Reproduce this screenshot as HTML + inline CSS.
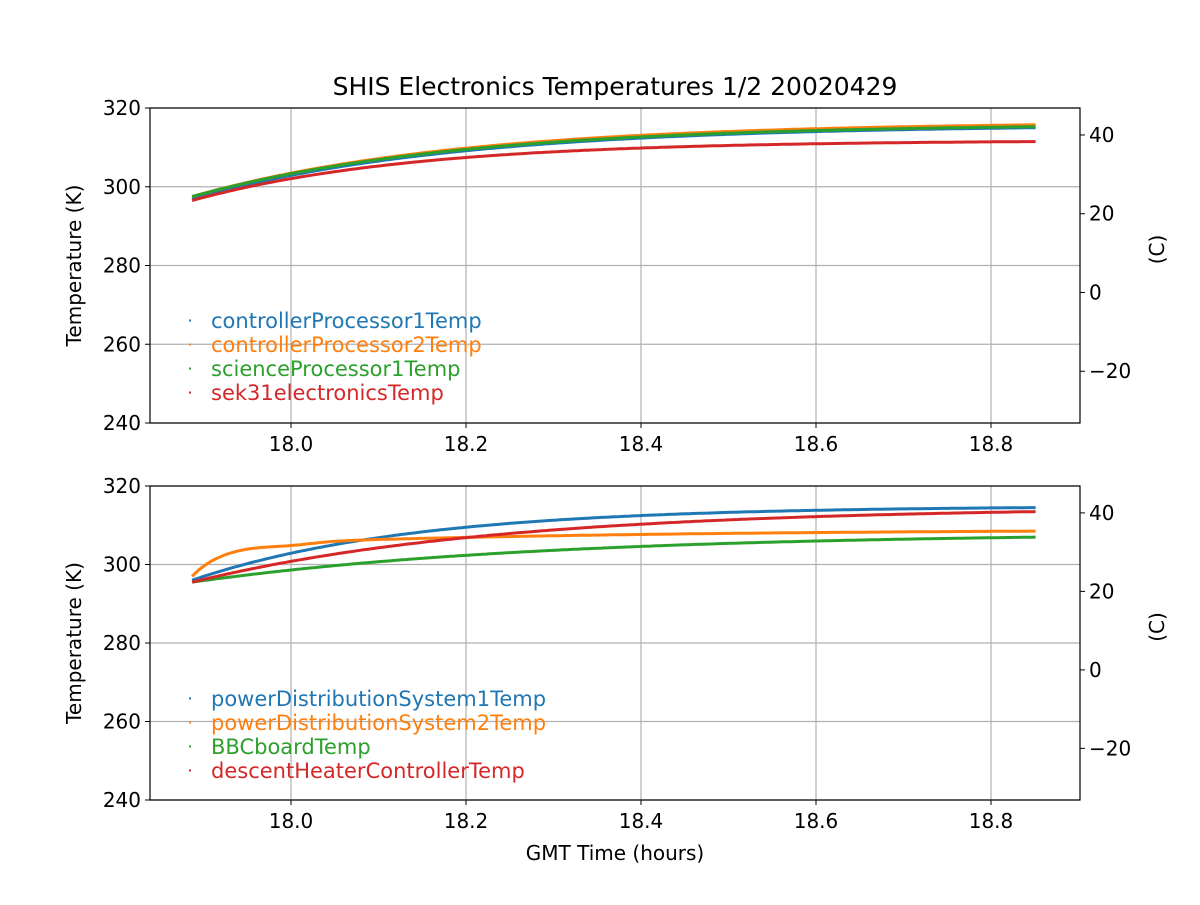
<!DOCTYPE html>
<html><head><meta charset="utf-8"><style>
body{margin:0;background:#fff}
svg text{font-family:"DejaVu Sans","Liberation Sans",sans-serif;font-size:20px}
</style></head><body>
<svg id="s" width="1200" height="900" xmlns="http://www.w3.org/2000/svg">
<rect width="1200" height="900" fill="#fff"/>
<text x="615" y="95" text-anchor="middle" style="font-size:25px">SHIS Electronics Temperatures 1/2 20020429</text>
<g id="g"></g>
<text x="615" y="860" text-anchor="middle">GMT Time (hours)</text>
</svg>
<script>
const NS="http://www.w3.org/2000/svg",g=document.getElementById('g');
function el(t,a,txt){const e=document.createElementNS(NS,t);for(const k in a)e.setAttribute(k,a[k]);if(txt!=null)e.textContent=txt;g.appendChild(e);return e;}
const X=t=>291+(t-18)*875;
const C=['#1f77b4','#ff7f0e','#2ca02c','#d62728'];
function panel(top,bot,series,names){
  const Y=k=>top+(320-k)*(bot-top)/80;
  [18,18.2,18.4,18.6,18.8].forEach(t=>{el('line',{x1:X(t),x2:X(t),y1:top,y2:bot,stroke:'#b0b0b0','stroke-width':1.2});
    el('line',{x1:X(t),x2:X(t),y1:bot,y2:bot+5,stroke:'#000'});
    el('text',{x:X(t),y:bot+28,'text-anchor':'middle'},t.toFixed(1));});
  [240,260,280,300,320].forEach(k=>{el('line',{x1:150,x2:1080,y1:Y(k),y2:Y(k),stroke:'#b0b0b0','stroke-width':1.2});
    el('line',{x1:145,x2:150,y1:Y(k),y2:Y(k),stroke:'#000'});
    el('text',{x:141,y:Y(k)+7,'text-anchor':'end'},k);});
  [-20,0,20,40].forEach(c=>{const y=Y(c+273.15);el('line',{x1:1080,x2:1085,y1:y,y2:y,stroke:'#000'});
    el('text',{x:1089,y:y+7},c<0?'\u2212'+(-c):c);});
  series.forEach((f,i)=>{let d='';for(let t=17.887;t<=18.853;t+=0.004){d+=(d?'L':'M')+X(t).toFixed(1)+','+Y(f(t-17.887)).toFixed(1);}
    el('path',{d:d,fill:'none',stroke:C[i],'stroke-width':3});});
  el('rect',{x:150,y:top,width:930,height:bot-top,fill:'none',stroke:'#000','stroke-width':1.2});
  names.forEach((n,i)=>{const y=top+213+i*24;el('rect',{x:189,y:y-1.5,width:2,height:2,fill:C[i]});
    el('text',{x:211,y:y+7,fill:C[i],style:'font-size:21px'},n);});
  el('text',{x:81,y:(top+bot)/2,'text-anchor':'middle',transform:`rotate(-90 81 ${(top+bot)/2})`},'Temperature (K)');
  el('text',{x:1164,y:(top+bot)/2-16,'text-anchor':'middle',transform:`rotate(-90 1164 ${(top+bot)/2-16})`},'(C)');
}
const E=Math.exp;
panel(108,423,[
 d=>297+18.75*(1-E(-d/0.3)),
 d=>297.5+19.0*(1-E(-d/0.3)),
 d=>297.5+18.5*(1-E(-d/0.3)),
 d=>296.5+15.3*(1-E(-d/0.25))
],['controllerProcessor1Temp','controllerProcessor2Temp','scienceProcessor1Temp','sek31electronicsTemp']);
panel(486,800,[
 d=>296+18.9*(1-E(-d/0.25)),
 d=>297+7.8*(1-E(-d/0.035))+4.2*(1-E(-d/0.45))-0.6*E(-Math.pow((d-0.11)/0.04,2)),
 d=>295.5+12.6*(1-E(-d/0.4)),
 d=>295.5+19.2*(1-E(-d/0.35))
],['powerDistributionSystem1Temp','powerDistributionSystem2Temp','BBCboardTemp','descentHeaterControllerTemp']);
</script>
</body></html>
